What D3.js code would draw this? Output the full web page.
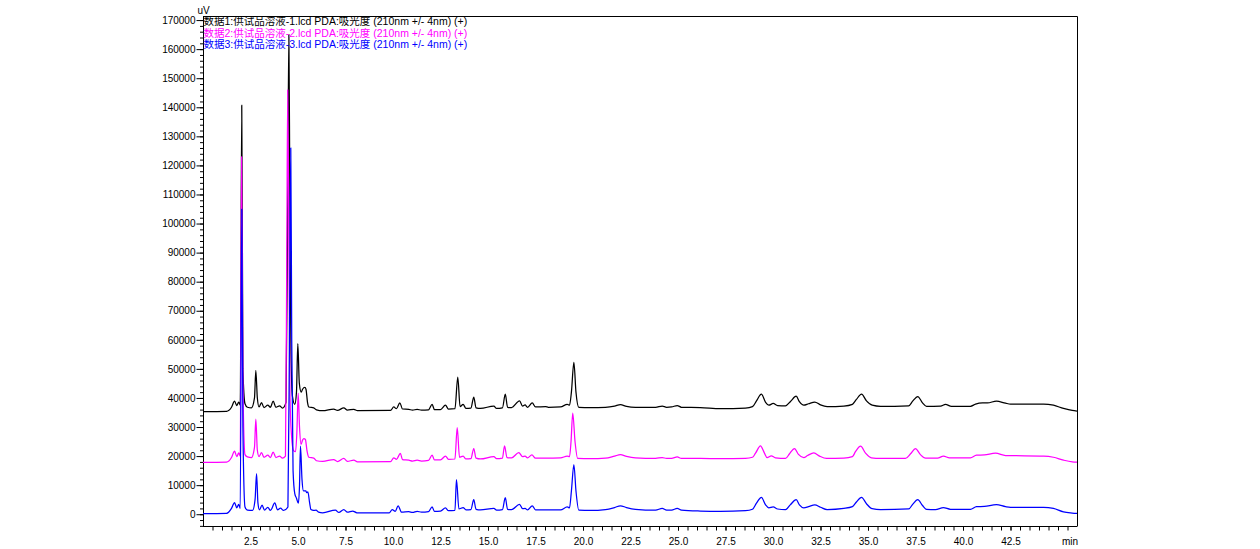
<!DOCTYPE html>
<html><head><meta charset="utf-8">
<script src="https://cdn.jsdelivr.net/npm/d3@7/dist/d3.min.js"></script>
<style>
html,body{margin:0;padding:0;background:#fff;}
svg{display:block;}
text{font-family:"Liberation Sans",Arial,"Noto Sans CJK SC",sans-serif;}
</style></head>
<body>
<svg id="chart" width="1260" height="549"></svg>
<script>
// ---- data (time in min, signal in uV) ----
const seriesNames = [
  "数据1:供试品溶液-1.lcd PDA:吸光度 (210nm +/- 4nm) (+)",
  "数据2:供试品溶液-2.lcd PDA:吸光度 (210nm +/- 4nm) (+)",
  "数据3:供试品溶液-3.lcd PDA:吸光度 (210nm +/- 4nm) (+)"
];
const seriesColors = ["#000000", "#ff00ff", "#0000ff"];

const trace1 = [[0,35300],[1.24,35400],[1.5,36800],[1.66,38900],[1.78,37400],[1.88,38600],[1.96,37500],[2.04,140700],[2.1,50000],[2.21,38000],[2.34,36800],
[2.55,36600],[2.71,40000],[2.78,49500],[2.86,40000],[2.95,36900],
[3.08,38400],[3.21,36700],[3.41,37500],[3.55,36800],[3.69,38900],[3.84,36800],[4.03,37300],[4.18,36500],
[4.37,38500],[4.46,110000],[4.52,165000],[4.57,110000],[4.63,55000],[4.71,40500],[4.83,37800],
[4.92,42000],[4.99,58700],[5.07,45000],[5.17,42000],[5.24,43000],[5.36,43600],[5.42,43000],[5.5,38500],[5.57,36900],
[5.83,36600],[5.97,35900],[6.3,35600],
[6.88,36200],[7.08,35700],[7.41,36600],[7.6,35800],[7.94,36100],[8.13,35600],[9.87,35700],
[10.04,36900],[10.18,36300],[10.36,38300],[10.5,36200],[10.83,36100],[11.03,35800],[11.27,36100],[11.5,35800],[11.87,35900],[12.06,37800],[12.18,36000],[12.5,36000],[12.76,37500],[12.92,36200],
[13.26,36300],[13.41,47200],[13.53,37000],[13.69,37800],[13.84,36400],[14.1,36500],[14.25,40300],[14.37,36600],[14.6,36400],
[15.31,37200],[15.45,36400],[15.76,36600],[15.91,41300],[16.03,36800],[16.24,36700],[16.66,39000],[16.82,37200],[16.95,37600],[17.08,36800],[17.33,38300],[17.5,36900],[18.03,37000],[18.18,36800],[18.82,36900],[19.17,37800],[19.29,37500],[19.39,42000],[19.52,52200],[19.63,42000],[19.78,36800],
[20.39,36700],[21.18,36800],[21.66,37200],[21.97,37700],[22.29,37100],[22.76,36800],[23.82,36800],[24.17,37200],[24.4,36800],[24.66,36900],[24.96,37400],[25.18,36800],[26.18,36700],[27.24,36300],[28.55,36500],[28.92,37000],
[29.13,39000],[29.39,41300],[29.61,38500],[29.78,37500],[30.01,38100],[30.24,37400],[30.66,37300],[30.92,38800],[31.22,40600],[31.39,38700],[31.62,37500],[31.87,38000],[32.2,38600],[32.5,37600],[32.85,37000],[33.73,37200],[34.18,37800],[34.39,39500],[34.66,41300],[34.92,39000],[35.22,37500],[35.66,37100],
[37.14,37300],[37.34,38800],[37.62,40500],[37.87,38300],[38.08,37100],[38.82,37200],[39.08,37800],[39.39,37100],[40.39,37100],[40.66,37900],[41.03,38300],[41.29,38300],[41.76,38900],[42.24,38200],[42.5,37900],[44.24,37900],[44.76,37500],[45.29,36400],[45.75,35700],[46,35500]];

const trace2 = [[0,17800],[1.24,17900],[1.5,19500],[1.66,21700],[1.78,19800],[1.88,21100],[1.96,20000],[2.03,123000],[2.1,45000],[2.21,20500],[2.34,19700],
[2.55,19500],[2.71,23000],[2.78,32700],[2.86,22000],[2.95,19800],[3.08,21200],[3.21,19600],[3.41,20300],[3.55,19500],[3.69,21400],[3.84,19500],[4.03,20000],[4.18,19300],
[4.34,20000],[4.41,90000],[4.46,146000],[4.52,90000],[4.58,40000],[4.66,27000],[4.76,22000],[4.87,21500],
[4.94,28000],[5.01,41600],[5.08,30000],[5.16,24000],[5.24,25500],[5.31,26000],[5.39,25700],[5.47,22000],[5.57,19600],[5.83,19300],[5.97,18400],[6.3,18200],
[6.88,18800],[7.08,18100],[7.41,19200],[7.6,18200],[7.94,18600],[8.13,18000],[9.87,18100],
[10.04,19400],[10.18,18900],[10.39,20900],[10.5,18800],[10.83,18600],[11.03,18300],[11.27,18600],[11.5,18300],[11.87,18500],[12.06,20300],[12.18,18700],[12.5,18700],[12.76,20000],[12.92,18900],
[13.26,19000],[13.38,29800],[13.5,19600],[13.69,20000],[13.84,19000],[14.1,19100],[14.25,22600],[14.37,19300],[14.6,19000],[15.31,19800],[15.45,19100],[15.76,19300],[15.87,23500],[16.0,19500],[16.24,19400],[16.62,21200],[16.82,19800],[16.95,20000],[17.08,19400],[17.31,20400],[17.5,19300],[18.03,19300],[18.82,19400],[19.17,20000],[19.29,19800],[19.37,25000],[19.46,34800],[19.58,25000],[19.72,19200],
[20.39,19100],[21.18,19300],[21.66,20000],[21.97,20500],[22.29,19900],[22.76,19400],[23.82,19200],[24.17,19500],[24.4,19200],[24.66,19200],[24.96,19700],[25.18,19200],[26.18,19200],[27.24,19100],[28.55,19200],[28.92,19600],
[29.08,21000],[29.34,23500],[29.55,21000],[29.69,19500],[29.91,20100],[30.13,19400],[30.66,19200],[30.87,20800],[31.13,22600],[31.34,20600],[31.62,19500],[31.82,20200],[32.15,21100],[32.45,20000],[32.82,19200],[33.73,19300],[34.18,19800],[34.34,21500],[34.61,23400],[34.87,21000],[35.18,19400],[35.66,19200],
[36.97,19200],[37.24,20800],[37.5,22600],[37.76,20500],[38.03,19300],[38.66,19300],[38.97,20000],[39.29,19400],[40.39,19400],[40.71,20300],[41.13,20400],[41.71,21000],[42.24,20200],[44.24,20000],[44.76,19600],[45.29,18600],[45.75,18000],[46,17900]];

const trace3 = [[0,200],[1.24,300],[1.5,2000],[1.66,4000],[1.78,2200],[1.88,3400],[1.96,2000],[2.04,105000],[2.1,30000],[2.21,2500],[2.34,1400],
[2.61,1300],[2.74,5000],[2.82,14000],[2.89,4000],[2.97,1500],[3.11,3100],[3.24,1400],[3.41,2400],[3.55,1300],[3.78,3900],[3.92,1500],[4.08,2100],[4.24,1300],
[4.47,2500],[4.55,60000],[4.62,126000],[4.67,60000],[4.74,15000],[4.83,7100],[4.92,5500],[5.02,3800],[5.08,10000],[5.13,23400],[5.21,12000],[5.29,8000],[5.41,8000],[5.46,7400],[5.52,7700],[5.61,4000],[5.68,1600],[5.82,1300],[5.95,1400],[6.08,700],[6.3,500],
[6.97,1400],[7.15,600],[7.41,1600],[7.6,700],[7.88,1100],[8.1,500],[9.8,450],
[9.96,1600],[10.12,1000],[10.27,2900],[10.45,700],[10.83,900],[11.03,600],[11.27,1000],[11.5,700],[11.87,900],[12.06,2500],[12.18,1000],[12.5,1100],[12.76,2200],[12.92,1200],
[13.26,1300],[13.34,11900],[13.47,1800],[13.69,2300],[13.84,1500],[14.1,1600],[14.25,5000],[14.37,1700],[14.6,1500],[15.31,2000],[15.45,1400],[15.76,1600],[15.91,5700],[16.03,1700],[16.24,1600],[16.66,3400],[16.82,1900],[16.95,2000],[17.08,1500],[17.33,2900],[17.5,1500],[18.03,1500],[18.82,1500],[19.17,2500],[19.29,2200],[19.39,8000],[19.52,17100],[19.63,8000],[19.78,1400],
[20.39,1300],[21.18,1600],[21.66,2300],[21.97,2900],[22.29,2300],[22.76,1700],[23.82,1400],[24.17,2000],[24.4,1400],[24.66,1400],[24.96,2000],[25.18,1400],[26.18,1100],[27.24,1000],[28.55,1200],[28.92,1700],
[29.13,3800],[29.39,5800],[29.61,3200],[29.78,2200],[30.01,2500],[30.24,1800],[30.66,1600],[30.92,3300],[31.22,5000],[31.39,3200],[31.62,2200],[31.87,2600],[32.2,3200],[32.5,2400],[32.85,1600],[33.73,2000],[34.18,2600],[34.39,4200],[34.66,5800],[34.92,3600],[35.22,1900],[35.66,1600],
[37.14,1800],[37.34,3300],[37.62,5000],[37.87,3000],[38.08,1700],[38.55,1600],[38.97,2300],[39.34,1700],[40.39,1700],[40.71,2600],[41.13,2700],[41.76,3300],[42.24,2600],[42.5,2400],[44.24,2400],[44.76,2000],[45.29,800],[45.75,400],[46,250]];

const yTickValues = [0,10000,20000,30000,40000,50000,60000,70000,80000,90000,100000,110000,120000,130000,140000,150000,160000,170000];
const xTickLabels = [2.5,5.0,7.5,10.0,12.5,15.0,17.5,20.0,22.5,25.0,27.5,30.0,32.5,35.0,37.5,40.0,42.5];
const yUnit = "uV";
const xUnit = "min";

// ---- layout ----
const svg = d3.select("#chart");
const L = 203, R = 1077, T = 16, B = 526;
const x = d3.scaleLinear().domain([0, 46]).range([L, R]);
const y = d3.scaleLinear().domain([-4050, 171400]).range([B, T]);

// frame (top & right)
svg.append("path")
  .attr("d", `M${L},${T+0.5}H${R+0.5}V${B}`)
  .attr("fill","none").attr("stroke","#000").attr("stroke-width",1);

// y axis minor ticks
const yMinor = d3.range(-4000, 171001, 2000);
const yMinorAxis = d3.axisLeft(y).tickValues(yMinor).tickSize(3.5).tickFormat("");
svg.append("g").attr("transform",`translate(${L+0.5},0)`).call(yMinorAxis)
  .call(g=>g.select(".domain").remove())
  .selectAll("line").attr("stroke","#000");

// y axis major
const yAxis = d3.axisLeft(y).tickValues(yTickValues).tickSize(7).tickPadding(1).tickFormat(d3.format("d"));
const gy = svg.append("g").attr("transform",`translate(${L+0.5},0)`).call(yAxis);
gy.select(".domain").attr("d", `M0,${T}V${B}`).attr("stroke","#000");
gy.selectAll("text").attr("font-size",10).attr("fill","#000")
  .style("font-family",'"Liberation Sans",Arial,sans-serif');
gy.selectAll("line").attr("stroke","#000");

// x axis ticks every 0.5 min
const xMinor = d3.range(0.5, 46, 0.5);
const xAxisTicks = d3.axisBottom(x).tickValues(xMinor).tickSize(4).tickFormat("");
svg.append("g").attr("transform",`translate(0,${B+0.5})`).call(xAxisTicks)
  .call(g=>g.select(".domain").remove())
  .selectAll("line").attr("stroke","#000");

// x axis labels
const xAxis = d3.axisBottom(x).tickValues(xTickLabels).tickSize(4).tickPadding(7).tickFormat(d3.format(".1f"));
const gx = svg.append("g").attr("transform",`translate(0,${B+0.5})`).call(xAxis);
gx.select(".domain").attr("d", `M${L},0H${R+0.5}`).attr("stroke","#000");
gx.selectAll("text").attr("font-size",10).attr("fill","#000")
  .style("font-family",'"Liberation Sans",Arial,sans-serif');
gx.selectAll("line").attr("stroke","#000");

// unit labels
svg.append("text").attr("x",197.5).attr("y",13.5).attr("font-size",10).text(yUnit);
svg.append("text").attr("x",1070).attr("y",544.5).attr("font-size",10).attr("text-anchor","middle").text(xUnit);

// traces
const line = d3.line().x(d=>x(d[0])).y(d=>y(d[1])).curve(d3.curveMonotoneX);
const traces = [trace1, trace2, trace3];
svg.append("defs").append("clipPath").attr("id","clip")
  .append("rect").attr("x",L).attr("y",T).attr("width",R-L).attr("height",B-T);
const gt = svg.append("g").attr("clip-path","url(#clip)");
traces.forEach((tr,i)=>{
  gt.append("path").datum(tr).attr("d",line)
    .attr("fill","none").attr("stroke",seriesColors[i]).attr("stroke-width",1.25)
    .attr("stroke-linejoin","round");
});

// legend texts
const legendY = [25.3, 36.6, 48];
seriesNames.forEach((n,i)=>{
  svg.append("text").attr("x",203.5).attr("y",legendY[i]).attr("font-size",10.5)
    .attr("fill",seriesColors[i]).text(n);
});
</script>
</body></html>
